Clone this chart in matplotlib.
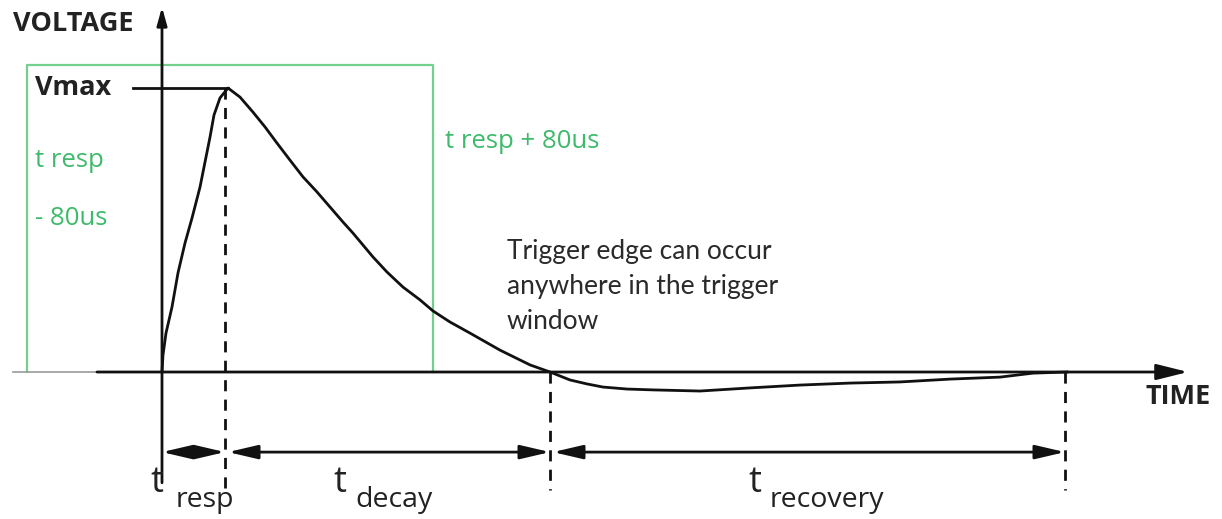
"""Trigger timing diagram: response, decay and recovery of a pulse."""

import matplotlib
matplotlib.use("Agg")
import matplotlib.pyplot as plt

# pulse shape, time in diagram units, voltage relative to Vmax
rise_t = [0, 1, 4, 10, 16, 23, 30, 38, 43, 48, 52, 58, 66]
rise_v = [0, 0.060, 0.137, 0.229, 0.349, 0.454, 0.542, 0.651, 0.739,
          0.827, 0.905, 0.965, 1.0]
decay_t = [66, 78, 91, 103, 115, 128, 141, 155, 168, 181, 191, 211, 225,
           241, 258, 271, 288, 308, 338, 368, 388]
decay_v = [1.0, 0.968, 0.915, 0.863, 0.806, 0.746, 0.687, 0.634, 0.581,
           0.528, 0.489, 0.405, 0.352, 0.299, 0.254, 0.215, 0.176, 0.137,
           0.077, 0.025, 0.0]
recov_t = [388, 408, 425, 441, 465, 491, 538, 588, 638, 688, 738, 788,
           838, 871, 905]
recov_v = [0.0, -0.028, -0.042, -0.053, -0.060, -0.063, -0.067, -0.056,
           -0.046, -0.039, -0.035, -0.025, -0.018, -0.004, 0.0]

# phase boundaries
t_resp = 63
t_decay = 388
t_recovery = 903

# trigger window
win_start, win_end, win_top = -135, 271, 1.08

BLACK = "#111111"
GREEN_LINE = "#74d08e"
GREEN_TEXT = "#3dba6a"

fig = plt.figure(figsize=(12.22, 5.19), dpi=100)
ax = fig.add_axes([0, 0, 1, 1])
ax.set_xlim(-162, 1060)
ax.set_ylim(-0.5176, 1.3099)
ax.axis("off")

# trigger window box
ax.plot([win_start, win_start, win_end, win_end],
        [0, win_top, win_top, 0], color=GREEN_LINE, lw=1.6)
ax.plot([-149, win_end], [0, 0], color="#9a9a9a", lw=1.2)

# axes with arrows
ax.annotate("", xy=(0, 1.285), xytext=(0, -0.39),
            arrowprops=dict(arrowstyle="-|>,head_length=0.9,head_width=0.25",
                            color=BLACK, lw=2, shrinkA=0, shrinkB=0,
                            mutation_scale=12))
ax.annotate("", xy=(1026, 0), xytext=(-65, 0),
            arrowprops=dict(arrowstyle="-|>,head_length=1.6,head_width=0.4",
                            color=BLACK, lw=2, shrinkA=0, shrinkB=0,
                            mutation_scale=12))

# Vmax level
ax.plot([-29, rise_t[-1]], [1.0, 1.0], color=BLACK, lw=2)

# pulse
ax.plot(rise_t + decay_t[1:] + recov_t[1:], rise_v + decay_v[1:] + recov_v[1:],
        color=BLACK, lw=2, solid_joinstyle="round")

# dashed markers
for t0, v0 in [(t_resp, 1.0), (t_decay, 0.0), (t_recovery, 0.0)]:
    ax.plot([t0, t0], [v0, -0.415], color=BLACK, lw=2, ls=(0, (4, 3)))

# duration arrows
y_arr = -0.282
for a, b in [(0, t_resp), (t_resp + 3, t_decay), (t_decay + 3, t_recovery)]:
    ax.annotate("", xy=(b, y_arr), xytext=(a, y_arr),
                arrowprops=dict(arrowstyle="<|-|>,head_length=1.5,head_width=0.35",
                                color=BLACK, lw=2, shrinkA=0, shrinkB=0,
                                mutation_scale=12))

lab = dict(family="Open Sans", color="#222222")
ax.text(-149, 1.225, "VOLTAGE", fontsize=19.5, fontweight="bold", va="center", **lab)
ax.text(-127, 1.0, "Vmax", fontsize=19.5, fontweight="bold", va="center", **lab)
ax.text(983, -0.088, "TIME", fontsize=19.5, fontweight="bold", va="center", **lab)

for t_x, sub_x, sub in [(-12, 14, "resp"), (171, 193, "decay"), (586, 608, "recovery")]:
    ax.text(t_x, -0.39, "t", fontsize=26, va="center", **lab)
    ax.text(sub_x, -0.45, sub, fontsize=20.5, va="center", **lab)

grn = dict(family="Open Sans", color=GREEN_TEXT, fontsize=18.5, va="center")
ax.text(-127, 0.745, "t resp", **grn)
ax.text(-127, 0.54, "- 80us", **grn)
ax.text(283, 0.81, "t resp + 80us", **grn)

ax.text(345, 0.3, "Trigger edge can occur\nanywhere in the trigger\nwindow",
        family="Lato", fontsize=19, color="#2a2a2a", va="center",
        linespacing=1.5)

fig.savefig("out.png", dpi=100)
